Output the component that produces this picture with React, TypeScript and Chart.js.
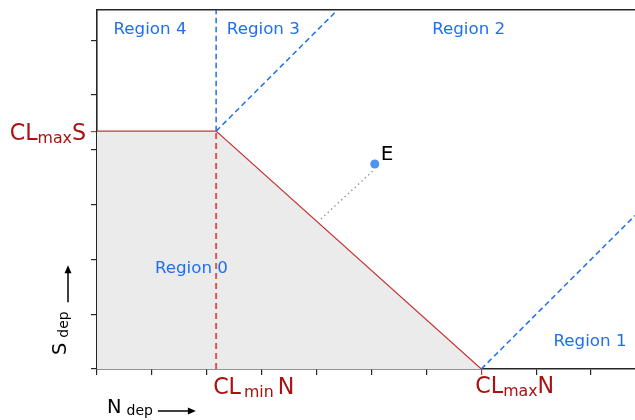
import React, { useEffect, useRef } from "react";
import { Chart, registerables } from "chart.js";

Chart.register(...registerables);

// ---- data (axis units: one tick = one unit) ----
const X_MAX = 9.8;
const Y_MAX = 6.55;
const X_TICKS = [0, 1, 2, 3, 4, 5, 6, 7, 8, 9];
const Y_TICKS = [0, 1, 2, 3, 4, 5, 6];
const CL_MIN_N = 2.17;
const CL_MAX_N = 7.0;
const CL_MAX_S = 4.34;

const boundaryLine = [
  { x: 0, y: CL_MAX_S },
  { x: CL_MIN_N, y: CL_MAX_S },
  { x: CL_MAX_N, y: 0 },
];
const minNLine = [
  { x: CL_MIN_N, y: 0 },
  { x: CL_MIN_N, y: CL_MAX_S },
];
const region34Line = [
  { x: CL_MIN_N, y: CL_MAX_S },
  { x: CL_MIN_N, y: Y_MAX },
];
const region23Line = [
  { x: CL_MIN_N, y: CL_MAX_S },
  { x: 4.38, y: Y_MAX },
];
const region12Line = [
  { x: CL_MAX_N, y: 0 },
  { x: X_MAX, y: 2.8 },
];
const pointE = [{ x: 5.06, y: 3.74 }];
const distanceLine = [
  { x: 5.02, y: 3.61 },
  { x: 4.06, y: 2.72 },
];

const regionLabels = [
  { text: "Region 4", x: 0.965, y: 6.11 },
  { text: "Region 3", x: 3.03, y: 6.11 },
  { text: "Region 2", x: 6.77, y: 6.11 },
  { text: "Region 1", x: 8.98, y: 0.42 },
  { text: "Region 0", x: 1.72, y: 1.75 },
];
const labelE = { text: "E", x: 5.17, y: 3.81 };

// ---- styles ----
const FONT = '"DejaVu Sans", "Noto Sans", sans-serif';
const RED_LINE = "#c83434";
const RED_DASH = "rgba(220,60,60,0.85)";
const RED_TEXT = "#aa1111";
const BLUE = "#1e6ff0";
const BLUE_POINT = "#4d94f5";
const FILL = "#ebebeb";
const AXIS = "#262626";

type Part = { t: string; size: number; dy?: number; gap?: number };

function partsWidth(ctx: CanvasRenderingContext2D, parts: Part[]) {
  let w = 0;
  for (const p of parts) {
    ctx.font = `${p.size}px ${FONT}`;
    w += (p.gap || 0) + ctx.measureText(p.t).width;
  }
  return w;
}

function drawParts(
  ctx: CanvasRenderingContext2D,
  parts: Part[],
  x: number,
  y: number,
  color: string
) {
  ctx.fillStyle = color;
  ctx.textAlign = "left";
  ctx.textBaseline = "alphabetic";
  let cx = x;
  for (const p of parts) {
    ctx.font = `${p.size}px ${FONT}`;
    cx += p.gap || 0;
    ctx.fillText(p.t, cx, y + (p.dy || 0));
    cx += ctx.measureText(p.t).width;
  }
  return cx;
}

function arrow(
  ctx: CanvasRenderingContext2D,
  x1: number,
  y1: number,
  x2: number,
  y2: number
) {
  const ang = Math.atan2(y2 - y1, x2 - x1);
  const hl = 8;
  const hw = 3.5;
  ctx.save();
  ctx.strokeStyle = "#000";
  ctx.fillStyle = "#000";
  ctx.lineWidth = 1.5;
  ctx.beginPath();
  ctx.moveTo(x1, y1);
  ctx.lineTo(x2 - Math.cos(ang) * hl * 0.8, y2 - Math.sin(ang) * hl * 0.8);
  ctx.stroke();
  ctx.beginPath();
  ctx.moveTo(x2, y2);
  ctx.lineTo(
    x2 - Math.cos(ang) * hl - Math.sin(ang) * hw,
    y2 - Math.sin(ang) * hl + Math.cos(ang) * hw
  );
  ctx.lineTo(
    x2 - Math.cos(ang) * hl + Math.sin(ang) * hw,
    y2 - Math.sin(ang) * hl - Math.cos(ang) * hw
  );
  ctx.closePath();
  ctx.fill();
  ctx.restore();
}

const textPlugin = {
  id: "textPlugin",
  afterDraw(chart: any) {
    const ctx: CanvasRenderingContext2D = chart.ctx;
    const xs = chart.scales.x;
    const ys = chart.scales.y;
    const area = chart.chartArea;
    ctx.save();

    // region labels
    ctx.font = `16.7px ${FONT}`;
    ctx.fillStyle = BLUE;
    ctx.textAlign = "center";
    ctx.textBaseline = "alphabetic";
    for (const r of regionLabels) {
      ctx.fillText(r.text, xs.getPixelForValue(r.x), ys.getPixelForValue(r.y));
    }
    ctx.font = `20px ${FONT}`;
    ctx.fillStyle = "#000";
    ctx.textAlign = "left";
    ctx.fillText(labelE.text, xs.getPixelForValue(labelE.x), ys.getPixelForValue(labelE.y));

    // CLmaxS on y axis
    const sParts: Part[] = [
      { t: "CL", size: 22.2 },
      { t: "max", size: 15.8, dy: 2.5 },
      { t: "S", size: 22.2 },
    ];
    const sw = partsWidth(ctx, sParts);
    drawParts(ctx, sParts, area.left - 11 - sw, ys.getPixelForValue(CL_MAX_S) + 9, RED_TEXT);

    // CLminN on x axis
    const minParts: Part[] = [
      { t: "CL", size: 22.2 },
      { t: "min", size: 15.8, dy: 2.5, gap: 3 },
      { t: "N", size: 22.2, gap: 4 },
    ];
    drawParts(ctx, minParts, xs.getPixelForValue(CL_MIN_N) - 3, area.bottom + 25, RED_TEXT);

    // CLmaxN on x axis
    const maxParts: Part[] = [
      { t: "CL", size: 22.2 },
      { t: "max", size: 15.8, dy: 2.5 },
      { t: "N", size: 22.2 },
    ];
    drawParts(ctx, maxParts, xs.getPixelForValue(CL_MAX_N) - 6, area.bottom + 24, RED_TEXT);

    // N_dep axis label
    const nParts: Part[] = [
      { t: "N", size: 19.4 },
      { t: "dep", size: 14, dy: 1.5, gap: 5 },
    ];
    const nEnd = drawParts(ctx, nParts, area.left + 10, area.bottom + 44, "#000");
    arrow(ctx, nEnd + 5, area.bottom + 42, nEnd + 43, area.bottom + 42);

    // S_dep axis label (rotated)
    const sdParts: Part[] = [
      { t: "S", size: 19.4 },
      { t: "dep", size: 14, dy: 1.5, gap: 5 },
    ];
    ctx.save();
    ctx.translate(area.left - 31, area.bottom - 14);
    ctx.rotate(-Math.PI / 2);
    const sdEnd = drawParts(ctx, sdParts, 0, 0, "#000");
    ctx.restore();
    const ay0 = area.bottom - 14 - sdEnd - 9;
    arrow(ctx, area.left - 29, ay0, area.left - 29, ay0 - 37);

    ctx.restore();
  },
};

const fixedTicks = (values: number[]) => (scale: any) => {
  scale.ticks = values.map((v) => ({ value: v }));
};

export default function App() {
  const ref = useRef<HTMLCanvasElement | null>(null);

  useEffect(() => {
    if (!ref.current) return;
    const line = (data: any[], extra: any) => ({
      data,
      showLine: true,
      pointRadius: 0,
      pointHoverRadius: 0,
      fill: false,
      borderWidth: 1.5,
      ...extra,
    });
    const chart = new Chart(ref.current, {
      type: "scatter",
      data: {
        datasets: [
          {
            data: pointE,
            pointRadius: 4.5,
            pointBackgroundColor: BLUE_POINT,
            pointBorderWidth: 0,
            showLine: false,
          },
          line(distanceLine, { borderColor: "#8c8c8c", borderDash: [1.3, 3.3], borderWidth: 1.4 }),
          line(region12Line, { borderColor: BLUE, borderDash: [5.5, 3.5] }),
          line(region23Line, { borderColor: BLUE, borderDash: [5.5, 3.5] }),
          line(region34Line, { borderColor: BLUE, borderDash: [5.5, 3.5] }),
          line(minNLine, { borderColor: RED_DASH, borderDash: [6, 4], borderWidth: 2 }),
          line(boundaryLine, {
            borderColor: RED_LINE,
            borderWidth: 1.2,
            fill: "origin",
            backgroundColor: FILL,
          }),
        ] as any,
      },
      options: {
        animation: false,
        responsive: false,
        events: [],
        layout: { padding: 0, autoPadding: false },
        plugins: {
          legend: { display: false },
          tooltip: { enabled: false },
        },
        scales: {
          x: {
            type: "linear",
            position: "bottom",
            min: 0,
            max: X_MAX,
            z: 1,
            afterBuildTicks: fixedTicks(X_TICKS),
            afterFit: (s: any) => {
              s.height = 51;
            },
            ticks: { display: false },
            grid: {
              drawOnChartArea: false,
              drawTicks: true,
              tickLength: 6,
              lineWidth: 1.2,
              color: (c: any) => (c.tick && c.tick.value === CL_MAX_N ? RED_LINE : AXIS),
            },
            border: { display: true, color: AXIS, width: 1.6 },
          },
          x2: {
            type: "linear",
            position: "top",
            min: 0,
            max: X_MAX,
            z: 1,
            afterFit: (s: any) => {
              s.height = 10;
            },
            ticks: { display: false },
            grid: { drawOnChartArea: false, drawTicks: false },
            border: { display: true, color: AXIS, width: 1.6 },
          },
          y: {
            type: "linear",
            position: "left",
            min: 0,
            max: Y_MAX,
            z: 1,
            afterBuildTicks: fixedTicks([...Y_TICKS, CL_MAX_S]),
            afterFit: (s: any) => {
              s.width = 97;
            },
            ticks: { display: false },
            grid: {
              drawOnChartArea: false,
              drawTicks: true,
              tickLength: 6,
              lineWidth: 1.2,
              color: (c: any) => (c.tick && c.tick.value === CL_MAX_S ? RED_LINE : AXIS),
            },
            border: { display: true, color: AXIS, width: 1.6 },
          },
        },
      } as any,
      plugins: [textPlugin],
    });
    return () => chart.destroy();
  }, []);

  return (
    <div style={{ position: "absolute", left: 0, top: 0, width: 635, height: 420, background: "#fff" }}>
      <canvas ref={ref} width={635} height={420} style={{ display: "block" }} />
    </div>
  );
}
